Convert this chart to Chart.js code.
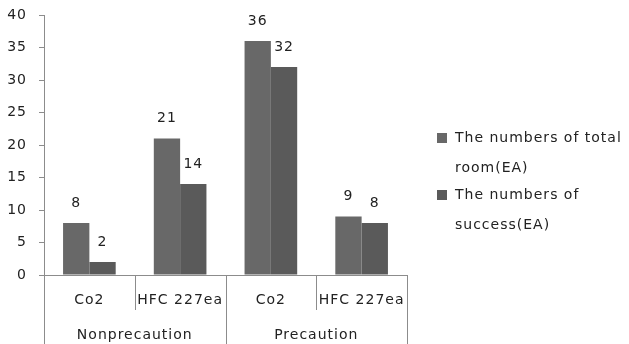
<!DOCTYPE html>
<html>
<head>
<meta charset="utf-8">
<script src="https://cdn.jsdelivr.net/npm/chart.js@4/dist/chart.umd.min.js"></script>
<style>
  html, body { margin: 0; padding: 0; background: #fff; }
  #wrap { width: 629px; height: 344px; position: relative; }
</style>
</head>
<body>
<div id="wrap"><canvas id="c" width="629" height="344"></canvas></div>
<script>
// Agent types per bar, and the precaution group each pair of bars belongs to
const categories = ['Co2', 'HFC 227ea', 'Co2', 'HFC 227ea'];
const groups = ['Nonprecaution', 'Precaution'];
const groupSize = 2;

// Series values (EA)
const totalRooms = [8, 21, 36, 9];
const successes = [2, 14, 32, 8];

// Legend text, one entry per series, already split into lines
const seriesNames = [
  ['The numbers of total', 'room(EA)'],
  ['The numbers of', 'success(EA)']
];
const seriesColors = ['#686868', '#5a5a5a'];

const yTicks = { min: 0, max: 40, step: 5 };

const FONT = { family: "'DejaVu Sans', sans-serif", size: 14 };
const TEXT = '#222222';
const AXIS = '#8c8c8c';
const SPACING = '1px';

// Wider tracking for every piece of text on the canvas
const spacingPlugin = {
  id: 'spacing',
  beforeUpdate(chart) { chart.ctx.letterSpacing = SPACING; },
  beforeDraw(chart) { chart.ctx.letterSpacing = SPACING; }
};

// Value labels above each bar
const valueLabels = {
  id: 'valueLabels',
  afterDatasetsDraw(chart) {
    const ctx = chart.ctx;
    ctx.save();
    ctx.letterSpacing = SPACING;
    ctx.font = `${FONT.size}px ${FONT.family}`;
    ctx.fillStyle = TEXT;
    ctx.textAlign = 'center';
    ctx.textBaseline = 'bottom';
    chart.data.datasets.forEach((ds, di) => {
      const meta = chart.getDatasetMeta(di);
      meta.data.forEach((bar, i) => {
        ctx.fillText(String(ds.data[i]), bar.x, bar.y - 13);
      });
    });
    ctx.restore();
  }
};

// Divider lines of the two-level category axis
const categoryDividers = {
  id: 'categoryDividers',
  afterDraw(chart) {
    const x = chart.scales.x;
    const ctx = chart.ctx;
    const n = categories.length;
    const step = (x.right - x.left) / n;
    const top = chart.chartArea.bottom;
    ctx.save();
    ctx.strokeStyle = AXIS;
    ctx.lineWidth = 1;
    for (let i = 0; i <= n; i++) {
      const px = Math.round(x.left + i * step) + 0.5;
      const isGroupEdge = i % groupSize === 0;
      const bottom = isGroupEdge ? chart.height : top + 35;
      ctx.beginPath();
      ctx.moveTo(px, top);
      ctx.lineTo(px, bottom);
      ctx.stroke();
    }
    ctx.restore();
  }
};

// Legend on the right, with wrapped series names
const sideLegend = {
  id: 'sideLegend',
  afterDraw(chart) {
    const ctx = chart.ctx;
    const boxX = 437, textX = 455;
    const firstY = 138, lineH = 30, itemGap = 27;
    ctx.save();
    ctx.letterSpacing = SPACING;
    ctx.font = `${FONT.size}px ${FONT.family}`;
    ctx.textAlign = 'left';
    ctx.textBaseline = 'middle';
    let y = firstY;
    seriesNames.forEach((lines, i) => {
      ctx.fillStyle = seriesColors[i];
      ctx.fillRect(boxX, y - 5, 10, 10);
      ctx.fillStyle = TEXT;
      lines.forEach((line, li) => {
        ctx.fillText(line, textX, y + li * lineH);
      });
      y += (lines.length - 1) * lineH + itemGap;
    });
    ctx.restore();
  }
};

new Chart(document.getElementById('c'), {
  type: 'bar',
  data: {
    labels: categories,
    datasets: [
      { label: seriesNames[0].join(' '), data: totalRooms, backgroundColor: seriesColors[0] },
      { label: seriesNames[1].join(' '), data: successes, backgroundColor: seriesColors[1] }
    ]
  },
  options: {
    responsive: false,
    animation: false,
    devicePixelRatio: 1,
    layout: { padding: { top: 15, right: 222, left: 0, bottom: 0 } },
    datasets: { bar: { categoryPercentage: 0.58, barPercentage: 1.0 } },
    plugins: {
      legend: { display: false },
      tooltip: { enabled: false }
    },
    scales: {
      x: {
        type: 'category',
        position: 'bottom',
        grid: { display: false, drawTicks: false },
        border: { display: true, color: AXIS, width: 1 },
        ticks: { color: TEXT, font: FONT, padding: 17, maxRotation: 0, autoSkip: false },
        afterFit(scale) { scale.height = 45; }
      },
      x2: {
        type: 'category',
        position: 'bottom',
        labels: groups,
        grid: { display: false, drawTicks: false },
        border: { display: false },
        ticks: { color: TEXT, font: FONT, padding: 7, maxRotation: 0, autoSkip: false },
        afterFit(scale) { scale.height = 24; }
      },
      y: {
        min: yTicks.min,
        max: yTicks.max,
        ticks: { stepSize: yTicks.step, color: TEXT, font: FONT, padding: 12 },
        grid: { drawOnChartArea: false, drawTicks: true, tickLength: 5, color: AXIS },
        border: { display: true, color: AXIS, width: 1 },
        afterFit(scale) {
          scale.width = 44;
          scale.paddingTop = 0;
          scale.paddingBottom = 0;
        }
      }
    }
  },
  plugins: [spacingPlugin, valueLabels, categoryDividers, sideLegend]
});
</script>
</body>
</html>
